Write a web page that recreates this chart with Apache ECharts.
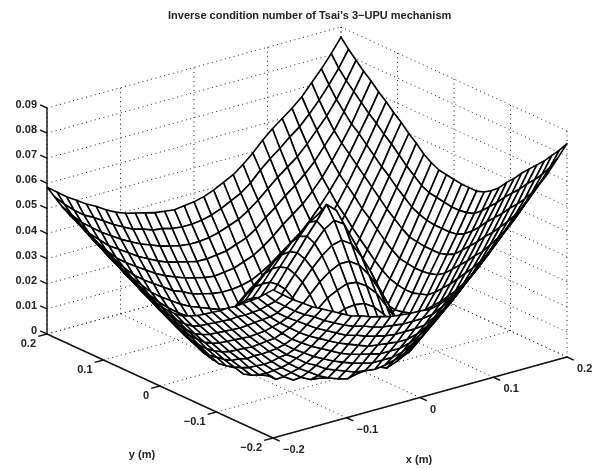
<!DOCTYPE html>
<html><head><meta charset="utf-8"><style>html,body{margin:0;padding:0;background:#fff}#c{width:600px;height:469px}</style>
<script src="https://cdn.jsdelivr.net/npm/echarts@6/dist/echarts.min.js"></script></head><body><div id="c"></div>
<script>
// Surface heights, in units of zUnit; rows run y=-0.2..0.2, columns x=-0.2..0.2.
const zUnit=0.0005;
const gridX=Array.from({length:31},(_,i)=>-0.2+i*0.4/30);
const gridY=gridX.slice();
const row00=[118,112,106,101,96,92,88,84,80,78,75,73,71,70,69,69,68,70,73,79,84,91,99,108,117,126,134,142,150,160,170];
const row01=[112,104,98,92,87,83,78,74,70,67,65,62,60,59,58,58,58,59,63,68,74,81,89,98,106,114,122,131,140,150,162];
const row02=[106,98,90,84,79,74,69,65,61,57,55,52,50,48,47,47,47,48,52,57,63,71,79,87,95,103,111,120,130,142,155];
const row03=[101,92,84,77,71,65,60,56,52,48,45,42,39,38,37,36,36,38,42,47,53,60,68,76,84,92,101,111,122,135,148];
const row04=[96,87,79,71,64,57,52,47,43,39,35,32,30,28,26,26,26,28,32,37,43,50,58,66,73,82,92,103,115,129,142];
const row05=[91,82,74,65,57,50,44,39,34,30,26,23,20,18,16,16,16,18,22,26,33,40,47,55,63,73,84,96,109,122,136];
const row06=[87,78,69,60,52,44,37,32,26,22,17,14,11,8,7,6,7,9,12,17,23,30,37,45,54,65,76,89,102,116,130];
const row07=[82,73,64,55,47,39,32,25,19,14,9,5,2,0,2,3,3,0,3,7,13,20,27,36,46,58,70,83,96,110,123];
const row08=[78,69,60,51,42,34,26,19,13,7,3,2,8,12,15,17,17,14,10,3,3,10,18,28,39,51,63,76,90,103,117];
const row09=[74,65,56,47,38,30,21,14,7,2,5,12,18,24,28,30,30,28,24,17,7,2,11,21,32,44,57,70,83,97,110];
const row10=[70,61,52,43,34,25,17,9,2,5,13,21,28,35,40,43,44,43,38,30,20,8,4,14,26,38,51,64,77,91,105];
const row11=[67,57,48,39,30,22,13,5,2,11,20,29,37,44,51,55,58,57,52,44,32,19,3,8,20,32,45,58,72,86,101];
const row12=[64,54,45,36,27,18,10,2,7,17,26,36,45,53,61,67,71,71,66,56,43,28,12,3,15,27,41,55,69,84,99];
const row13=[63,53,43,34,25,16,8,0,10,20,31,41,50,60,69,77,83,85,80,68,53,36,18,0,12,25,39,53,68,83,99];
const row14=[63,53,43,34,24,15,6,2,12,23,33,44,54,64,74,84,93,98,93,77,60,41,22,4,10,23,38,53,68,83,99];
const row15=[64,54,44,34,24,14,5,3,13,24,34,45,55,66,76,87,97,108,101,81,62,43,24,5,9,23,38,53,68,84,100];
const row16=[66,55,45,35,25,16,7,2,12,23,33,44,54,64,74,84,93,98,93,77,60,41,22,4,10,24,39,54,69,85,101];
const row17=[68,58,47,37,27,18,8,0,10,20,31,41,50,60,69,77,83,85,80,68,53,36,18,0,12,26,40,55,71,86,102];
const row18=[71,61,50,40,30,20,11,2,7,17,26,36,45,53,61,67,71,71,66,56,43,28,12,3,16,30,44,59,74,89,105];
const row19=[75,64,54,44,34,24,14,6,2,11,20,29,37,44,51,55,58,57,52,44,32,19,3,9,21,35,49,64,79,94,109];
const row20=[78,68,57,47,37,28,18,10,3,5,13,21,28,35,40,43,44,43,38,30,20,8,5,15,27,41,55,69,84,99,115];
const row21=[82,71,61,51,41,32,23,15,7,2,5,12,18,24,28,30,30,28,24,17,7,2,11,22,34,47,61,75,90,105,120];
const row22=[85,75,65,55,45,36,27,19,13,7,3,2,8,12,15,17,17,14,10,3,3,10,19,29,40,53,66,81,95,111,126];
const row23=[89,78,68,58,49,40,32,25,19,14,9,5,2,0,2,3,3,0,3,7,13,20,27,36,47,60,73,87,101,116,131];
const row24=[92,82,72,62,53,45,37,31,26,21,17,14,11,8,7,7,8,10,13,18,24,30,37,45,55,66,79,93,107,122,137];
const row25=[96,86,76,67,58,50,44,39,34,29,26,22,20,18,17,17,18,20,24,29,35,41,47,55,64,74,85,99,113,127,142];
const row26=[100,90,80,71,63,57,52,47,42,38,35,32,30,28,27,28,29,32,35,40,46,53,59,65,73,82,93,105,118,133,148];
const row27=[103,94,84,77,70,65,60,55,51,47,44,42,40,38,38,39,40,43,46,51,58,64,71,77,84,92,102,112,125,139,153];
const row28=[107,98,90,84,78,73,68,64,60,57,54,52,50,49,49,50,52,55,58,63,69,76,83,89,95,103,112,121,132,145,159];
const row29=[112,104,97,91,87,82,77,73,69,67,64,63,61,60,60,61,63,66,70,74,80,88,95,101,108,114,122,131,141,152,165];
const row30=[117,111,105,100,95,91,86,82,79,77,75,73,72,71,72,73,75,78,82,86,92,99,107,114,120,126,133,142,151,161,172];
const zTicks=[0,.01,.02,.03,.04,.05,.06,.07,.08,.09];
const xTicks=[-.2,-.1,0,.1,.2],yTicks=[-.2,-.1,0,.1,.2];
const xLabels=['−0.2','−0.1','0','0.1','0.2'],yLabels=['−0.2','−0.1','0','0.1','0.2'];
const titleText="Inverse condition number of Tsai's 3−UPU mechanism";

const Z=[row00,row01,row02,row03,row04,row05,row06,row07,row08,row09,row10,row11,row12,row13,row14,row15,row16,row17,row18,row19,row20,row21,row22,row23,row24,row25,row26,row27,row28,row29,row30].map(r=>r.map(v=>v*zUnit));
const N=gridX.length;
const P=(x,y,z)=>[273+735*(x+.2)-565*(y+.2),438-202.5*(x+.2)-260*(y+.2)-2511*z];
const cells=[];for(let i=N-2;i>=0;i--)for(let j=N-2;j>=0;j--)cells.push([i,j]);
const segs=[];
const zT=.09;
xTicks.forEach(x=>{segs.push([[x,-.2,0],[x,.2,0]]);segs.push([[x,.2,0],[x,.2,zT]]);});
yTicks.forEach(y=>{segs.push([[-.2,y,0],[.2,y,0]]);segs.push([[.2,y,0],[.2,y,zT]]);});
zTicks.forEach(z=>{segs.push([[-.2,.2,z],[.2,.2,z]]);segs.push([[.2,.2,z],[.2,-.2,z]]);});
const axes=[[[-.2,.2,0],[-.2,.2,zT]],[[-.2,.2,0],[-.2,-.2,0]],[[-.2,-.2,0],[.2,-.2,0]]];
const tk=.012;
zTicks.forEach(z=>axes.push([[-.2,.2,z],[-.2,.2+tk,z]]));
yTicks.forEach(y=>axes.push([[-.2,y,0],[-.2-tk,y,0]]));
xTicks.forEach(x=>axes.push([[x,-.2,0],[x,-.2-tk,0]]));
const labels=[];
zTicks.forEach(z=>{const p=P(-.2,.2,z);labels.push([p[0]-10,p[1]-3,String(z),'right']);});
yTicks.forEach((y,k)=>{const p=P(-.2,y,0);labels.push([p[0]-11,p[1]+10,yLabels[k],'right']);});
xTicks.forEach((x,k)=>{const p=P(x,-.2,0);labels.push([p[0]+10,p[1]+12,xLabels[k],'left']);});
labels.push([142,455,'y (m)','center']);labels.push([419,460,'x (m)','center']);
const chart=echarts.init(document.getElementById('c'),null,{renderer:'canvas'});
const font='bold 11px "Liberation Sans"';
const base={type:'custom',coordinateSystem:'cartesian2d',progressive:0,silent:true};
chart.setOption({animation:false,
 title:{text:titleText,top:10,left:168,padding:0,textStyle:{fontFamily:'Liberation Sans',fontSize:11,fontWeight:'bold',color:'#222'}},
 grid:{left:0,right:0,top:0,bottom:0},
 xAxis:{type:'value',min:0,max:600,show:false},yAxis:{type:'value',min:0,max:469,inverse:true,show:false},
 series:[
 {...base,data:segs.map((s,i)=>[i]),renderItem(p,api){const s=segs[api.value(0)];const a=api.coord(P(...s[0])),b=api.coord(P(...s[1]));
   return {type:'line',shape:{x1:a[0],y1:a[1],x2:b[0],y2:b[1]},style:{stroke:'#222',lineWidth:1,lineDash:[1,3.5],fill:null}};}},
 {...base,data:cells.map((c,i)=>[i]),renderItem(p,api){const [i,j]=cells[api.value(0)];
   const pts=[[i,j],[i+1,j],[i+1,j+1],[i,j+1]].map(q=>api.coord(P(gridX[q[0]],gridY[q[1]],Z[q[1]][q[0]])));
   return {type:'polygon',shape:{points:pts},style:{fill:'#fff',stroke:'#000',lineWidth:1.6,lineJoin:'round'}};}},
 {...base,data:axes.map((s,i)=>[i]),renderItem(p,api){const s=axes[api.value(0)];const a=api.coord(P(...s[0])),b=api.coord(P(...s[1]));
   return {type:'line',shape:{x1:a[0],y1:a[1],x2:b[0],y2:b[1]},style:{stroke:'#111',lineWidth:1.4,fill:null}};}},
 {...base,data:labels.map((s,i)=>[i]),renderItem(p,api){const s=labels[api.value(0)];const a=api.coord([s[0],s[1]]);
   return {type:'text',style:{x:a[0],y:a[1],text:s[2],font:font,fill:'#222',textAlign:s[3],textVerticalAlign:'middle'}};}}
 ]});
</script></body></html>
